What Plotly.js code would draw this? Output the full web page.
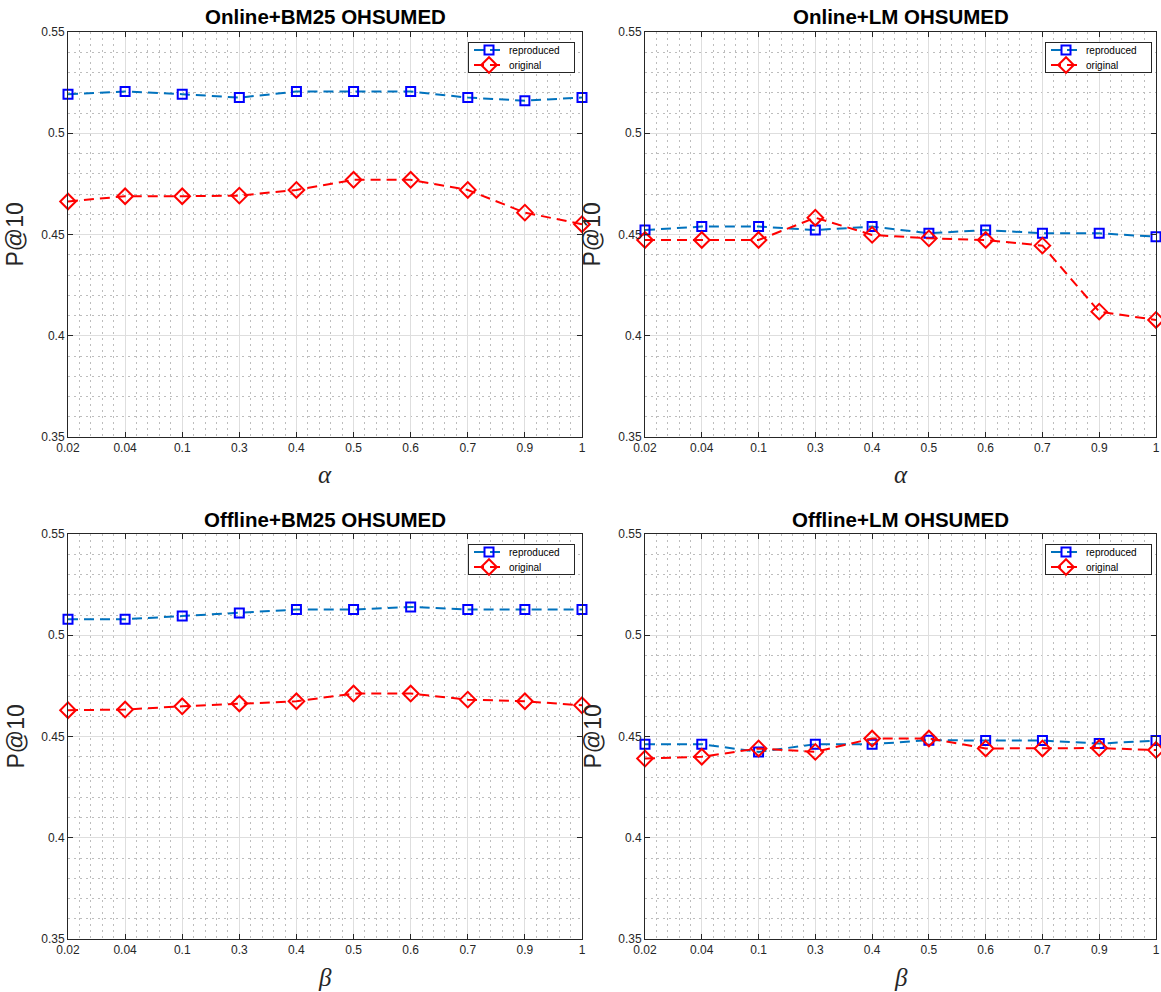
<!DOCTYPE html>
<html>
<head>
<meta charset="utf-8">
<script src="https://cdn.plot.ly/plotly-3.0.1.min.js"></script>
<style>html,body{margin:0;padding:0;background:#fff;}#chart{width:1161px;height:992px;}</style>
</head>
<body>
<div id="chart"></div>
<script>
// ---- data ----
const xLabels = ['0.02','0.04','0.1','0.3','0.4','0.5','0.6','0.7','0.9','1'];
const yTickVals = [0.35, 0.4, 0.45, 0.5, 0.55];
const yTickText = ['0.35', '0.4', '0.45', '0.5', '0.55'];
const seriesNames = ['reproduced', 'original'];
const panelTitles = ['Online+BM25 OHSUMED', 'Online+LM OHSUMED', 'Offline+BM25 OHSUMED', 'Offline+LM OHSUMED'];
const panelXTitles = ['α', 'α', 'β', 'β'];

const onlineBM25Reproduced = [0.5193, 0.5206, 0.5193, 0.5176, 0.5206, 0.5206, 0.5206, 0.5176, 0.5161, 0.5176];
const onlineBM25Original   = [0.4663, 0.4689, 0.4689, 0.4692, 0.4720, 0.4770, 0.4770, 0.4720, 0.4608, 0.4551];
const onlineLMReproduced   = [0.4522, 0.4539, 0.4539, 0.4522, 0.4539, 0.4506, 0.4522, 0.4506, 0.4506, 0.4489];
const onlineLMOriginal     = [0.4473, 0.4473, 0.4473, 0.4583, 0.4498, 0.4481, 0.4473, 0.4445, 0.4119, 0.4078];
const offlineBM25Reproduced = [0.5079, 0.5079, 0.5095, 0.5110, 0.5127, 0.5127, 0.5140, 0.5127, 0.5127, 0.5127];
const offlineBM25Original   = [0.4630, 0.4633, 0.4649, 0.4663, 0.4674, 0.4712, 0.4712, 0.4682, 0.4674, 0.4654];
const offlineLMReproduced   = [0.4462, 0.4462, 0.4424, 0.4462, 0.4462, 0.4482, 0.4480, 0.4480, 0.4465, 0.4480];
const offlineLMOriginal     = [0.4391, 0.4400, 0.4441, 0.4424, 0.4490, 0.4490, 0.4441, 0.4441, 0.4443, 0.4433];

const panelData = [
  [onlineBM25Reproduced, onlineBM25Original],
  [onlineLMReproduced, onlineLMOriginal],
  [offlineBM25Reproduced, offlineBM25Original],
  [offlineLMReproduced, offlineLMOriginal]
];

// ---- layout geometry ----
const W = 1161, H = 992;
const xDomainsPx = [[68, 582], [645, 1156], [68, 582], [645, 1156]];
const yDomainsPx = [[32, 437], [32, 437], [534, 939], [534, 939]];
const xPos = xLabels.map((_, i) => i);

const axisColor = '#262626';
const font = 'Liberation Sans, Arial, Helvetica, sans-serif';
const minorGrid = {showgrid: true, gridcolor: '#bdbdbd', griddash: '2px,4px', gridwidth: 1, ticks: ''};

const traces = [];
const layout = {
  width: W, height: H,
  margin: {l: 0, r: 0, t: 0, b: 0},
  paper_bgcolor: '#ffffff',
  plot_bgcolor: '#ffffff',
  showlegend: true,
  annotations: [],
  font: {family: font, color: axisColor}
};

for (let p = 0; p < 4; p++) {
  const sfx = p === 0 ? '' : String(p + 1);
  const xa = 'x' + sfx, ya = 'y' + sfx;
  const lg = 'legend' + sfx;
  const [xd0, xd1] = xDomainsPx[p];
  const [yd0, yd1] = yDomainsPx[p];
  const xdom = [xd0 / W, xd1 / W];
  const ydom = [1 - yd1 / H, 1 - yd0 / H];

  layout['xaxis' + sfx] = {
    domain: xdom, anchor: ya, range: [0, 9], fixedrange: true,
    tickmode: 'array', tickvals: xPos, ticktext: xLabels, ticklabeloverflow: 'allow',
    ticks: 'inside', ticklen: 5, tickcolor: axisColor, tickwidth: 1,
    showline: true, linecolor: axisColor, linewidth: 1, mirror: 'ticks',
    showgrid: true, gridcolor: '#dedede', gridwidth: 1,
    zeroline: false,
    tickfont: {family: font, size: 12, color: axisColor},
    minor: Object.assign({tickmode: 'linear', tick0: 0, dtick: 0.2}, minorGrid)
  };
  layout['yaxis' + sfx] = {
    domain: ydom, anchor: xa, range: [0.35, 0.55], fixedrange: true,
    tickmode: 'array', tickvals: yTickVals, ticktext: yTickText, ticklabeloverflow: 'allow',
    ticks: 'inside', ticklen: 5, tickcolor: axisColor, tickwidth: 1,
    showline: true, linecolor: axisColor, linewidth: 1, mirror: 'ticks',
    showgrid: true, gridcolor: '#dedede', gridwidth: 1,
    zeroline: false,
    tickfont: {family: font, size: 12, color: axisColor},
    minor: Object.assign({tickmode: 'linear', tick0: 0.35, dtick: 0.01}, minorGrid)
  };

  traces.push({
    type: 'scatter', mode: 'lines+markers', x: xPos, y: panelData[p][0],
    name: seriesNames[0], xaxis: xa, yaxis: ya, legend: lg, cliponaxis: false,
    line: {color: '#0072BD', width: 2, dash: '10px,6px'},
    marker: {symbol: 'square-open', size: 9, color: '#0000ff', line: {width: 2, color: '#0000ff'}}
  });
  traces.push({
    type: 'scatter', mode: 'lines+markers', x: xPos, y: panelData[p][1],
    name: seriesNames[1], xaxis: xa, yaxis: ya, legend: lg, cliponaxis: false,
    line: {color: '#ff0000', width: 2, dash: '10px,6px'},
    marker: {symbol: 'diamond-open', size: 12, color: '#ff0000', line: {width: 2, color: '#ff0000'}}
  });

  layout[lg] = {
    x: (xd0 + 400) / W, xanchor: 'left', xref: 'paper',
    y: 1 - (yd0 + 10) / H, yanchor: 'top', yref: 'paper',
    bgcolor: '#ffffff', bordercolor: axisColor, borderwidth: 1,
    font: {family: font, size: 10, color: '#000000'},
    tracegroupgap: 0, itemwidth: 30
  };

  const xc = (xd0 + xd1) / 2 / W;
  layout.annotations.push({
    text: '<b>' + panelTitles[p] + '</b>', xref: 'paper', yref: 'paper',
    x: xc, y: 1 - (yd0 - 15) / H, xanchor: 'center', yanchor: 'middle', showarrow: false,
    font: {family: font, size: 20.5, color: '#000000'}
  });
  layout.annotations.push({
    text: 'P@10', xref: 'paper', yref: 'paper', textangle: -90,
    x: (xd0 - 53) / W, y: 1 - ((yd0 + yd1) / 2) / H, xanchor: 'center', yanchor: 'middle', showarrow: false,
    font: {family: font, size: 23, color: axisColor}
  });
  layout.annotations.push({
    text: '<i>' + panelXTitles[p] + '</i>', xref: 'paper', yref: 'paper',
    x: xc, y: 1 - (yd1 + 38) / H, xanchor: 'center', yanchor: 'middle', showarrow: false,
    font: {family: 'Liberation Serif, Times New Roman, serif', size: 25, color: axisColor}
  });
}

Plotly.newPlot('chart', traces, layout, {staticPlot: true, displayModeBar: false}).then(function (gd) {
  // tighten legend boxes to match the compact reference legends
  try {
    const legends = gd.querySelectorAll('g.legend, g.legend2, g.legend3, g.legend4');
    legends.forEach(function (lgEl) {
      const items = lgEl.querySelectorAll('g.traces');
      items.forEach(function (it, i) {
        const tr = it.getAttribute('transform') || '';
        const m = tr.match(/translate\(([-\d.]+)[ ,]+([-\d.]+)\)/);
        const tx = m ? parseFloat(m[1]) : 0;
        it.setAttribute('transform', 'translate(' + tx + ',' + (8 + i * 15) + ')');
      });
      const bg = lgEl.querySelector('rect.bg');
      if (bg) {
        bg.setAttribute('height', 30);
        bg.setAttribute('width', 106);
      }
    });
  } catch (e) {}
});
</script>
</body>
</html>
